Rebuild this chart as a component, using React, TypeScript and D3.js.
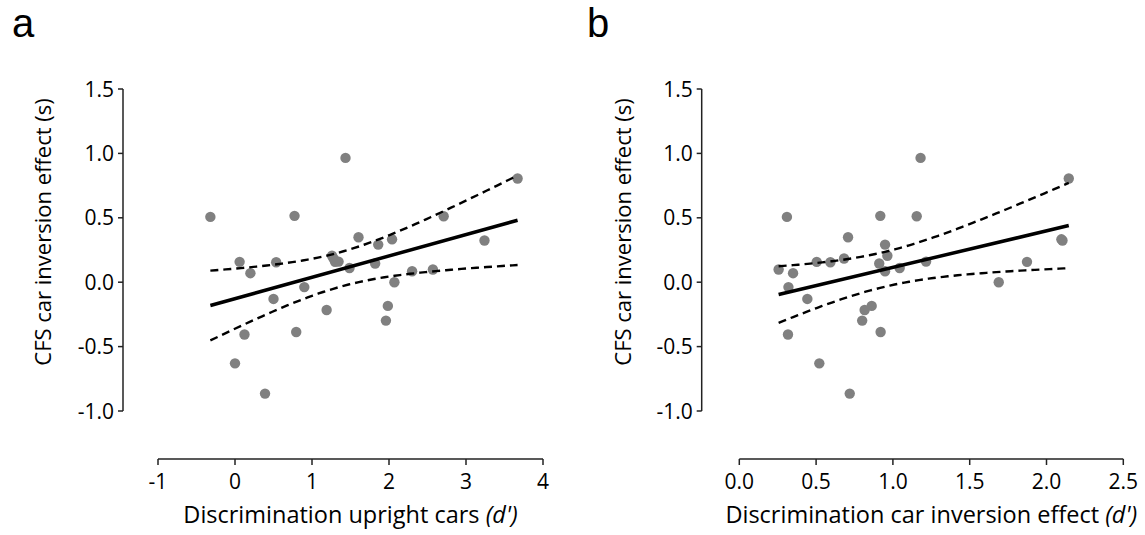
import React from "react";
import * as d3 from "d3";

// Shared CFS car inversion effect (s) per participant
const CFS_EFFECT = [
  0.507, 0.965, 0.805, 0.515, 0.512, 0.349, 0.292, 0.333, 0.324, 0.158,
  0.155, 0.184, 0.099, 0.07, 0.145, 0.205, 0.085, 0.11, 0.16, 0.158,
  0.0, -0.038, -0.13, -0.184, -0.216, -0.298, -0.406, -0.387, -0.63, -0.865,
];
// Panel a: discrimination upright cars (d')
const UPRIGHT_DPRIME = [
  -0.32, 1.435, 3.67, 0.773, 2.71, 1.604, 1.86, 2.04, 3.24, 0.06,
  0.535, 1.28, 2.57, 0.2, 1.82, 1.26, 2.3, 1.487, 1.345, 1.3,
  2.07, 0.9, 0.5, 1.985, 1.19, 1.96, 0.123, 0.795, 0.0, 0.39,
];
// Panel b: discrimination car inversion effect (d')
const INVERSION_DPRIME = [
  0.31, 1.18, 2.145, 0.918, 1.155, 0.708, 0.949, 2.097, 2.104, 0.504,
  0.593, 0.682, 0.256, 0.35, 0.911, 0.964, 0.949, 1.044, 1.216, 1.873,
  1.689, 0.32, 0.443, 0.862, 0.816, 0.8, 0.317, 0.92, 0.521, 0.719,
];

const Y_TICKS = [-1.0, -0.5, 0.0, 0.5, 1.0, 1.5];
const X_TICKS_A = [-1, 0, 1, 2, 3, 4];
const X_TICKS_B = [0.0, 0.5, 1.0, 1.5, 2.0, 2.5];
const T_CRIT_28 = 2.0484; // t(0.975, df = 28)

const FONT = "'Open Sans', 'Noto Sans', sans-serif";

type PanelProps = {
  letter: string;
  letterX: number;
  xs: number[];
  ys: number[];
  xTicks: number[];
  xDomain: [number, number];
  xRange: [number, number];
  yAxisX: number;
  yLabelX: number;
  xLabel: string;
  xFmt: (v: number) => string;
};

function fit(xs: number[], ys: number[]) {
  const n = xs.length;
  const mx = d3.mean(xs)!;
  const my = d3.mean(ys)!;
  let sxx = 0, sxy = 0;
  xs.forEach((x, i) => {
    sxx += (x - mx) * (x - mx);
    sxy += (x - mx) * (ys[i] - my);
  });
  const b = sxy / sxx;
  const a = my - b * mx;
  let sse = 0;
  xs.forEach((x, i) => {
    const r = ys[i] - (a + b * x);
    sse += r * r;
  });
  const s = Math.sqrt(sse / (n - 2));
  const half = (x: number) =>
    T_CRIT_28 * s * Math.sqrt(1 / n + ((x - mx) * (x - mx)) / sxx);
  return { a, b, half };
}

function Panel(p: PanelProps) {
  const x = d3.scaleLinear().domain(p.xDomain).range(p.xRange);
  const y = d3.scaleLinear().domain([-1, 1.5]).range([411, 89]);
  const xAxisY = 459;
  const { a, b, half } = fit(p.xs, p.ys);
  const [x0, x1] = d3.extent(p.xs) as [number, number];
  const samples = d3.range(0, 61).map((i) => x0 + ((x1 - x0) * i) / 60);
  const line = d3
    .line<[number, number]>()
    .x((d) => x(d[0]))
    .y((d) => y(d[1]));
  const fitPath = line([
    [x0, a + b * x0],
    [x1, a + b * x1],
  ])!;
  const upper = line(samples.map((v) => [v, a + b * v + half(v)] as [number, number]))!;
  const lower = line(samples.map((v) => [v, a + b * v - half(v)] as [number, number]))!;
  const axisColor = "#222";
  const yMid = 232;

  return (
    <g fontFamily={FONT} fill="#000">
      <text x={p.letterX} y={37} fontSize={40} fontFamily="'Liberation Sans', Arial, sans-serif">
        {p.letter}
      </text>
      {/* y axis */}
      <line x1={p.yAxisX} x2={p.yAxisX} y1={y(1.5)} y2={y(-1)} stroke={axisColor} strokeWidth={1.5} />
      {Y_TICKS.map((t) => (
        <g key={"y" + t}>
          <line x1={p.yAxisX - 5} x2={p.yAxisX} y1={y(t)} y2={y(t)} stroke={axisColor} strokeWidth={1.5} />
          <text x={p.yAxisX - 9} y={y(t)} dy="0.36em" textAnchor="end" fontSize={21}>
            {t.toFixed(1)}
          </text>
        </g>
      ))}
      <text
        transform={`translate(${p.yLabelX},${yMid}) rotate(-90)`}
        textAnchor="middle"
        fontSize={22}
      >
        CFS car inversion effect (s)
      </text>
      {/* x axis */}
      <line x1={p.xRange[0]} x2={p.xRange[1]} y1={xAxisY} y2={xAxisY} stroke={axisColor} strokeWidth={1.5} />
      {p.xTicks.map((t) => (
        <g key={"x" + t}>
          <line x1={x(t)} x2={x(t)} y1={xAxisY} y2={xAxisY + 6} stroke={axisColor} strokeWidth={1.5} />
          <text x={x(t)} y={489} textAnchor="middle" fontSize={21}>
            {p.xFmt(t)}
          </text>
        </g>
      ))}
      <text x={(p.xRange[0] + p.xRange[1]) / 2} y={523} textAnchor="middle" fontSize={23.5}>
        {p.xLabel} <tspan fontStyle="italic">(d')</tspan>
      </text>
      {/* points */}
      {p.xs.map((v, i) => (
        <circle key={i} cx={x(v)} cy={y(p.ys[i])} r={5.2} fill="#808080" />
      ))}
      {/* fit and CI */}
      <path d={upper} fill="none" stroke="#000" strokeWidth={2.4} strokeDasharray="8,5" />
      <path d={lower} fill="none" stroke="#000" strokeWidth={2.4} strokeDasharray="8,5" />
      <path d={fitPath} fill="none" stroke="#000" strokeWidth={3.5} />
    </g>
  );
}

export default function App() {
  return (
    <svg
      width={1145}
      height={535}
      style={{ position: "absolute", left: 0, top: 0, background: "#fff" }}
    >
      <rect width={1145} height={535} fill="#fff" />
      <Panel
        letter="a"
        letterX={12}
        xs={UPRIGHT_DPRIME}
        ys={CFS_EFFECT}
        xTicks={X_TICKS_A}
        xDomain={[-1, 4]}
        xRange={[158, 543]}
        yAxisX={123}
        yLabelX={51}
        xLabel="Discrimination upright cars"
        xFmt={(v) => String(v)}
      />
      <Panel
        letter="b"
        letterX={587}
        xs={INVERSION_DPRIME}
        ys={CFS_EFFECT}
        xTicks={X_TICKS_B}
        xDomain={[0, 2.5]}
        xRange={[739.3, 1123.3]}
        yAxisX={701.7}
        yLabelX={631}
        xLabel="Discrimination car inversion effect"
        xFmt={(v) => v.toFixed(1)}
      />
    </svg>
  );
}
